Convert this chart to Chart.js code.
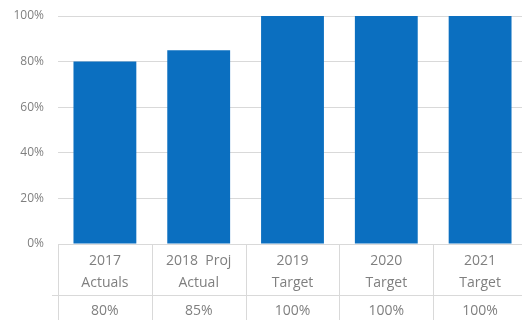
<!DOCTYPE html>
<html>
<head>
<meta charset="utf-8">
<script src="https://cdn.jsdelivr.net/npm/chart.js@4"></script>
<style>
  html, body { margin: 0; padding: 0; background: #fff; overflow: hidden; }
  #wrap { width: 530px; height: 320px; }
</style>
</head>
<body>
<div id="wrap"><canvas id="targetChart"></canvas></div>
<script>
// Achievement by year: actuals vs targets
const categories = [['2017', 'Actuals'], ['2018  Proj', 'Actual'], ['2019', 'Target'], ['2020', 'Target'], ['2021', 'Target']];
const values = [0.80, 0.85, 1.00, 1.00, 1.00];
const valueLabels = ['80%', '85%', '100%', '100%', '100%'];
const yTickLabels = ['0%', '20%', '40%', '60%', '80%', '100%'];

const gridColor = '#d9d9d9';
const textColor = '#7f7f7f';

// data table under the plot: category names on top, values below
const dataTable = {
    id: 'dataTable',
    afterDraw(chart) {
        const { ctx, chartArea, scales: { x } } = chart;
        const top = chartArea.bottom;
        const split = top + 51;
        const bottom = chart.height;
        const step = x.getPixelForValue(1) - x.getPixelForValue(0);

        ctx.save();
        ctx.strokeStyle = gridColor;
        ctx.lineWidth = 1;
        ctx.beginPath();
        ctx.moveTo(chartArea.left - 6, split + 0.5);
        ctx.lineTo(chart.width, split + 0.5);
        for (let i = 0; i <= categories.length; i++) {
            const px = Math.round(x.getPixelForValue(i) - step / 2) + 0.5;
            ctx.moveTo(px, top);
            ctx.lineTo(px, bottom);
        }
        ctx.stroke();

        ctx.fillStyle = textColor;
        ctx.font = '14px "Open Sans", sans-serif';
        ctx.textAlign = 'center';
        ctx.textBaseline = 'middle';
        categories.forEach((lines, i) => {
            const cx = x.getPixelForValue(i);
            ctx.fillText(lines[0], cx, top + 17);
            ctx.fillText(lines[1], cx, top + 39);
            ctx.fillText(valueLabels[i], cx, split + 16);
        });
        ctx.restore();
    }
};

const ctx = document.getElementById('targetChart').getContext('2d');
const targetChart = new Chart(ctx, {
    type: 'bar',
    data: {
        labels: categories.map(c => c.join(' ')),
        datasets: [{
            data: values,
            backgroundColor: '#0b6fc0',
            categoryPercentage: 1,
            barPercentage: 0.67
        }]
    },
    options: {
        responsive: true,
        maintainAspectRatio: false,
        animation: false,
        layout: {
            padding: { top: 16, right: 3, bottom: 76, left: 0 }
        },
        plugins: {
            legend: { display: false },
            tooltip: { enabled: false }
        },
        scales: {
            x: {
                display: false
            },
            y: {
                min: 0,
                max: 1,
                ticks: {
                    stepSize: 0.2,
                    padding: 14,
                    color: textColor,
                    font: { family: '"Open Sans", sans-serif', size: 12 },
                    callback: (v, i) => yTickLabels[i]
                },
                grid: {
                    color: gridColor,
                    drawTicks: false
                },
                border: { display: false },
                afterFit: (scale) => {
                    scale.width = 58;
                    scale.paddingTop = 0;
                    scale.paddingBottom = 0;
                }
            }
        }
    },
    plugins: [dataTable]
});
</script>
</body>
</html>
